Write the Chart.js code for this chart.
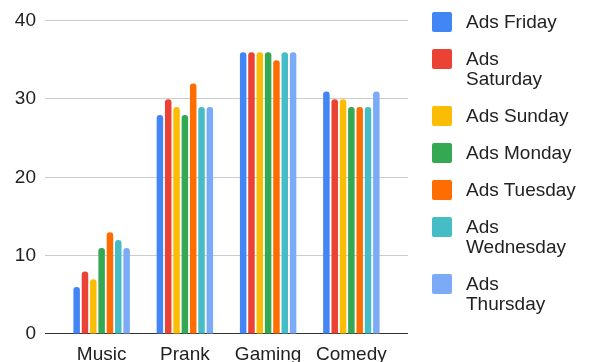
<!DOCTYPE html>
<html>
<head>
<meta charset="utf-8">
<script src="https://cdn.jsdelivr.net/npm/chart.js@4.4.0/dist/chart.umd.min.js"></script>
<style>
  html, body { margin: 0; padding: 0; background: #fff; }
  #wrap { position: relative; width: 591px; height: 362px; overflow: hidden; }
  #legend { position: absolute; left: 432px; top: 12px; font-family: "Liberation Sans", Arial, sans-serif; font-size: 19px; line-height: 20px; color: #222; }
  .item { display: flex; align-items: flex-start; margin-bottom: 17px; }
  .box { width: 20px; height: 20px; border-radius: 2px; margin-right: 14px; flex: none; }
  .txt { width: 112px; }
</style>
</head>
<body>
<div id="wrap">
  <canvas id="chart" width="591" height="362"></canvas>
  <div id="legend"></div>
</div>
<script>
// Dữ liệu
var categories = ['Music', 'Prank', 'Gaming', 'Comedy']
var seriesNames = ['Ads Friday', 'Ads Saturday', 'Ads Sunday', 'Ads Monday', 'Ads Tuesday', 'Ads Wednesday', 'Ads Thursday']
var adsFriday = [6, 28, 36, 31]
var adsSaturday = [8, 30, 36, 30]
var adsSunday = [7, 29, 36, 30]
var adsMonday = [11, 28, 36, 29]
var adsTuesday = [13, 32, 35, 29]
var adsWednesday = [12, 29, 36, 29]
var adsThursday = [11, 29, 36, 31]
var yTicks = [0, 10, 20, 30, 40]

var colorList = ['#4285F4', '#EA4335', '#FBBC04', '#34A853', '#FF6D01', '#46BDC6', '#7BAAF7']
var allSeries = [adsFriday, adsSaturday, adsSunday, adsMonday, adsTuesday, adsWednesday, adsThursday]
var font = '"Liberation Sans", Arial, sans-serif'

// kẻ lưới ngang dài hơn vùng vẽ một chút
var gridLines = {
    id: 'gridLines',
    beforeDatasetsDraw: function (chart) {
        var ctx = chart.ctx
        var y = chart.scales.y
        ctx.save()
        yTicks.forEach(function (v) {
            var py = Math.round(y.getPixelForValue(v)) - 0.5
            ctx.beginPath()
            ctx.strokeStyle = v === 0 ? '#333' : '#ccc'
            ctx.lineWidth = 1
            ctx.moveTo(45, py)
            ctx.lineTo(408, py)
            ctx.stroke()
        })
        ctx.restore()
    }
}

var chart = new Chart(document.getElementById('chart').getContext('2d'), {
    type: 'bar',
    data: {
        labels: categories,
        datasets: allSeries.map(function (d, i) {
            return {
                label: seriesNames[i],
                data: d,
                backgroundColor: colorList[i],
                borderRadius: { topLeft: 3, topRight: 3 },
                borderSkipped: 'bottom',
                categoryPercentage: 0.7,
                barPercentage: 0.78
            }
        })
    },
    options: {
        responsive: false,
        animation: false,
        layout: { padding: { top: 21, right: 198, bottom: 0, left: 0 } },
        plugins: { legend: { display: false }, tooltip: { enabled: false } },
        scales: {
            x: {
                grid: { display: false, drawTicks: false },
                border: { display: false },
                ticks: { color: '#222', font: { family: font, size: 19 }, padding: 9, maxRotation: 0 },
                afterFit: function (s) { s.height = 28 }
            },
            y: {
                min: 0, max: 40,
                afterBuildTicks: function (s) { s.ticks = yTicks.map(function (v) { return { value: v } }) },
                grid: { display: true, color: 'rgba(0,0,0,0)', drawOnChartArea: false, drawTicks: true, tickLength: 24 },
                border: { display: false },
                ticks: { color: '#222', font: { family: font, size: 19 }, padding: 0 },
                afterFit: function (s) { s.width = 60 }
            }
        }
    },
    plugins: [gridLines]
})

// chú thích
var legend = document.getElementById('legend')
chart.data.datasets.forEach(function (ds) {
    var item = document.createElement('div')
    item.className = 'item'
    item.innerHTML = '<div class="box" style="background:' + ds.backgroundColor + '"></div><div class="txt">' + ds.label + '</div>'
    legend.appendChild(item)
})
</script>
</body>
</html>
